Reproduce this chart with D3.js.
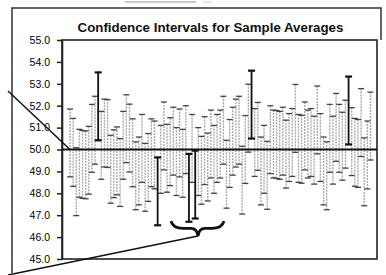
<!DOCTYPE html>
<html><head><meta charset="utf-8">
<script src="https://cdn.jsdelivr.net/npm/d3@7"></script>
<style>html,body{margin:0;padding:0;background:#fff;}svg{display:block;}</style>
</head><body>
<script>
// Sample averages (centre of each confidence interval), read left to right
const means = [
  50.30,49.87,48.53,49.37,49.32,49.30,49.51,50.51,50.88,51.97,
  50.19,50.75,50.73,49.10,49.35,49.48,48.95,
  50.19,50.95,50.52,49.85,48.80,49.02,50.05,48.73,49.18,49.85,
  49.75,48.09,49.55,50.62,49.60,49.90,50.38,49.45,50.30,49.37,
  50.45,48.25,50.05,48.40,49.45,49.05,49.95,49.20,50.25,49.55,
  50.05,50.25,50.88,48.87,49.82,50.38,50.75,50.88,48.60,50.00,51.43,
  52.05,50.32,50.60,49.02,49.55,48.82,50.45,50.25,50.23,50.19,
  50.38,49.79,50.09,50.32,51.42,50.05,50.01,50.62,50.25,50.32,
  49.97,51.35,50.09,49.02,48.80,50.51,49.97,51.01,50.51,50.15,
  50.70,51.78,50.36,49.87,49.82,51.23,48.98,49.75,51.07
];
const margin = 1.55;           // half-width of every interval
const target = 50.0;           // true population mean
const yTicks = [45,46,47,48,49,50,51,52,53,54,55];
const title = "Confidence Intervals for Sample Averages";

const W = 386, H = 275;
const svg = d3.select("body").append("svg").attr("width", W).attr("height", H);

const plot = {l: 62, r: 377, t: 40, b: 259};
const x = d3.scalePoint().domain(d3.range(means.length)).range([70, 370.5]);
const y = d3.scaleLinear().domain([45, 55]).range([plot.b, plot.t]);

// faint scan mark above title
svg.append("line").attr("x1",125).attr("x2",196).attr("y1",2).attr("y2",2)
  .attr("stroke","#bbb").attr("stroke-width",1.5);
svg.append("line").attr("x1",203).attr("x2",212).attr("y1",2).attr("y2",2)
  .attr("stroke","#ccc").attr("stroke-width",1);

// outer frame
svg.append("path").attr("d","M12,273 L12,8 L381,8 L381,40")
  .attr("fill","none").attr("stroke","#333").attr("stroke-width",1.5);

// title
svg.append("text").attr("x",210.5).attr("y",32).attr("text-anchor","middle")
  .attr("font-family","Arial, 'Liberation Sans', sans-serif").attr("font-weight","bold")
  .attr("font-size",13.3).attr("fill","#111").text(title);

// plot border
svg.append("rect").attr("x",plot.l).attr("y",plot.t)
  .attr("width",plot.r-plot.l).attr("height",plot.b-plot.t)
  .attr("fill","none").attr("stroke","#222").attr("stroke-width",1.6);

// y axis
const ax = svg.append("g").attr("transform",`translate(${plot.l},0)`)
  .call(d3.axisLeft(y).tickValues(yTicks).tickFormat(d3.format(".1f"))
    .tickSize(5).tickSizeOuter(0).tickPadding(7));
ax.select(".domain").attr("stroke","#222").attr("stroke-width",1.6);
ax.selectAll(".tick line").attr("stroke","#222").attr("stroke-width",1.5);
ax.selectAll(".tick text").attr("font-family","Arial, 'Liberation Sans', sans-serif")
  .attr("font-size",10.5).attr("fill","#000");

// intervals
const data = means.map((m,i)=>({i, lo:m-margin, hi:m+margin, miss:(m-margin>target)||(m+margin<target)}));
const g = svg.append("g");
g.selectAll("line.v").data(data.filter(d=>!d.miss)).join("line").attr("class","v")
  .attr("x1",d=>x(d.i)).attr("x2",d=>x(d.i)).attr("y1",d=>y(d.hi)).attr("y2",d=>y(d.lo))
  .attr("stroke","#aaa").attr("stroke-width",1.4).attr("stroke-dasharray","2,1");
const caps = [];
data.forEach(d=>{caps.push({d,v:d.hi});caps.push({d,v:d.lo});});
g.selectAll("line.c").data(caps.filter(c=>!c.d.miss)).join("line").attr("class","c")
  .attr("x1",c=>x(c.d.i)-3).attr("x2",c=>x(c.d.i)+3).attr("y1",c=>y(c.v)).attr("y2",c=>y(c.v))
  .attr("stroke","#444").attr("stroke-width",1.3);

// target line
svg.append("line").attr("x1",plot.l).attr("x2",plot.r).attr("y1",y(target)).attr("y2",y(target))
  .attr("stroke","#111").attr("stroke-width",2);

// missed intervals (bold)
const miss = data.filter(d=>d.miss);
g.selectAll("line.mv").data(miss).join("line")
  .attr("x1",d=>x(d.i)).attr("x2",d=>x(d.i)).attr("y1",d=>y(d.hi)).attr("y2",d=>y(d.lo))
  .attr("stroke","#111").attr("stroke-width",1.8);
g.selectAll("line.mc").data(miss.flatMap(d=>[{d,v:d.hi},{d,v:d.lo}])).join("line")
  .attr("x1",c=>x(c.d.i)-3.5).attr("x2",c=>x(c.d.i)+3.5).attr("y1",c=>y(c.v)).attr("y2",c=>y(c.v))
  .attr("stroke","#111").attr("stroke-width",2.2);

// annotation: line to the first interval at the target
svg.append("line").attr("x1",8).attr("y1",91).attr("x2",x(0)).attr("y2",y(target))
  .attr("stroke","#111").attr("stroke-width",1.5);

// brace under the pair of low intervals
const bx0 = 171, bx1 = 224, bc = 198, byT = y(46.73), byM = y(46.4), byTip = y(46.05);
svg.append("path")
  .attr("d",`M${bx0},${byT} Q${bx0+2},${byM} ${bx0+12},${byM} L${bc-7},${byM} Q${bc-1},${byM} ${bc},${byTip} Q${bc+1},${byM} ${bc+7},${byM} L${bx1-12},${byM} Q${bx1-2},${byM} ${bx1},${byT}`)
  .attr("fill","none").attr("stroke","#111").attr("stroke-width",2.8);
svg.append("line").attr("x1",8).attr("y1",275).attr("x2",bc).attr("y2",byTip)
  .attr("stroke","#111").attr("stroke-width",1.5);
</script>
</body></html>
